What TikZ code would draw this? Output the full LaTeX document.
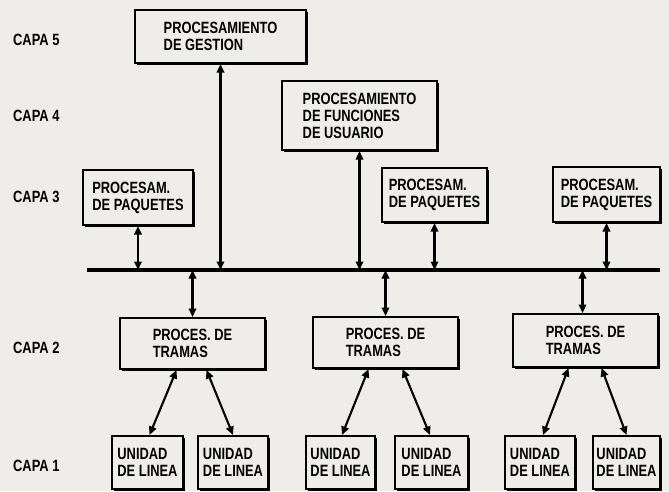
\documentclass[tikz,border=0pt]{standalone}
\usepackage{fontspec}
\setmainfont{Liberation Sans}[FakeStretch=0.79]
\usetikzlibrary{arrows.meta,shadows}
\definecolor{paper}{RGB}{238,237,233}
\begin{document}
\begin{tikzpicture}[x=1pt,y=-1pt,
  txt/.style={font=\fontsize{16.3}{17}\selectfont\bfseries},
  unit/.style={txt, draw=black, line width=2pt, fill=paper, align=left,
    inner sep=0pt,
    drop shadow={shadow xshift=2.4pt, shadow yshift=-2.4pt, fill=black, opacity=1}},
  layer/.style={txt, anchor=west, inner sep=0pt},
  link/.style={line width=2.1pt, {Triangle[length=8.5pt,width=7.5pt]}-{Triangle[length=8.5pt,width=7.5pt]}},
  bus/.style={line width=3.2pt}]
  % paper
  \fill[paper] (0,0) rectangle (669,491);
  \useasboundingbox (0,0) rectangle (669,491);

  % layer captions
  \node[layer] (c5) at (13,40)  {CAPA 5};
  \node[layer] (c4) at (13,116) {CAPA 4};
  \node[layer] (c3) at (13,197) {CAPA 3};
  \node[layer] (c2) at (13,348) {CAPA 2};
  \node[layer] (c1) at (13,466) {CAPA 1};

  % layers 5 to 3
  \node[unit, minimum width=171, minimum height=53] (gest) at (220.5,36.5) {PROCESAMIENTO\\DE GESTION};
  \node[unit, minimum width=155, minimum height=69] (func) at (359.5,115.5) {PROCESAMIENTO\\DE FUNCIONES\\DE USUARIO};
  \node[unit, minimum width=110, minimum height=55] (paq1) at (138,197.5) {PROCESAM.\\DE PAQUETES};
  \node[unit, minimum width=105, minimum height=54] (paq2) at (434.5,195) {PROCESAM.\\DE PAQUETES};
  \node[unit, minimum width=107, minimum height=55] (paq3) at (606.5,194.5) {PROCESAM.\\DE PAQUETES};

  % layer 2
  \node[unit, minimum width=145, minimum height=51] (tr1) at (192.5,343.5) {PROCES. DE\\TRAMAS};
  \node[unit, minimum width=145, minimum height=51] (tr2) at (385.5,342.5) {PROCES. DE\\TRAMAS};
  \node[unit, minimum width=145, minimum height=53] (tr3) at (585.5,340.5) {PROCES. DE\\TRAMAS};

  % layer 1
  \node[unit, minimum width=71, minimum height=53] (u1) at (147.5,462.5) {UNIDAD\\DE LINEA};
  \node[unit, minimum width=70, minimum height=53] (u2) at (233,462.5)   {UNIDAD\\DE LINEA};
  \node[unit, minimum width=69, minimum height=53] (u3) at (340.5,462.5) {UNIDAD\\DE LINEA};
  \node[unit, minimum width=73, minimum height=53] (u4) at (431.5,462.5) {UNIDAD\\DE LINEA};
  \node[unit, minimum width=70, minimum height=53] (u5) at (540,462.5)   {UNIDAD\\DE LINEA};
  \node[unit, minimum width=67, minimum height=53] (u6) at (626.5,462.5) {UNIDAD\\DE LINEA};

  % bus
  \coordinate (busL) at (87,270);
  \coordinate (busR) at (660,270);
  \draw[bus] (busL) -- (busR);

  % upper links to the bus
  \draw[link] (paq1.south) -- (paq1.south |- busL);
  \draw[link] (gest.south) -- (gest.south |- busL);
  \draw[link] (func.south) -- (func.south |- busL);
  \draw[link] (paq2.south) -- (paq2.south |- busL);
  \draw[link] (paq3.south) -- (paq3.south |- busL);

  % bus to frame processors
  \draw[link] (tr1.north |- busL) -- (tr1.north);
  \draw[link] (tr2.north |- busL) -- (tr2.north);
  \draw[link] ([xshift=-3pt]tr3.north |- busL) -- ([xshift=-3pt]tr3.north);

  % frame processors to line units
  \draw[link] ([xshift=-16pt]tr1.south) -- ([xshift=2pt]u1.north);
  \draw[link] ([xshift=14pt]tr1.south) -- (u2.north);
  \draw[link] ([xshift=-17pt]tr2.south) -- ([xshift=1.5pt]u3.north);
  \draw[link] ([xshift=17pt]tr2.south) -- ([xshift=-1.5pt]u4.north);
  \draw[link] ([xshift=-17pt]tr3.south) -- ([xshift=3pt]u5.north);
  \draw[link] ([xshift=16pt]tr3.south) -- (u6.north);
\end{tikzpicture}
\end{document}
